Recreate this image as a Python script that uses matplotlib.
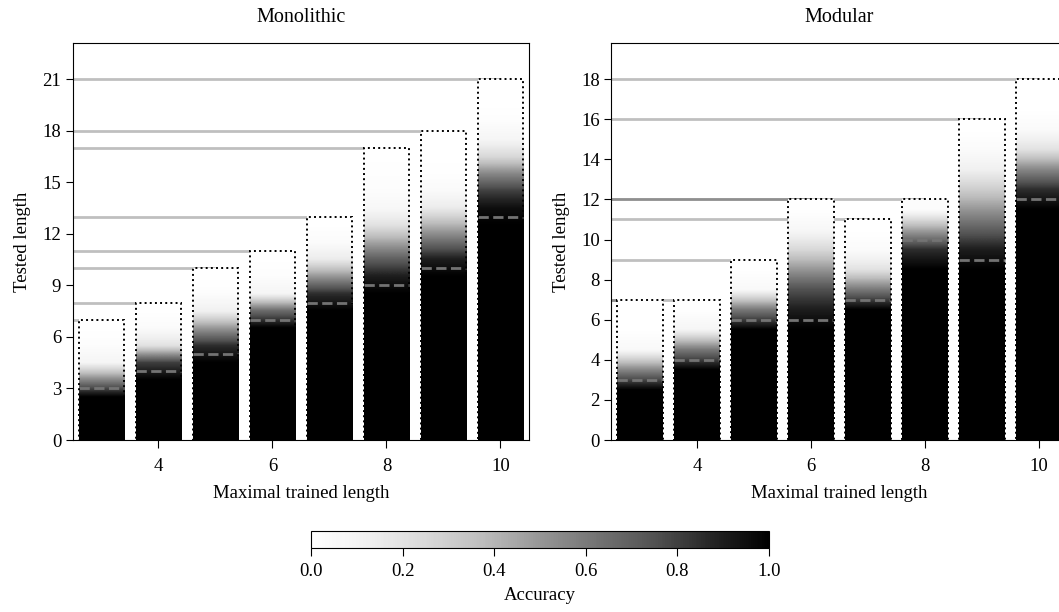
import numpy as np
import matplotlib
matplotlib.use("Agg")
import matplotlib.pyplot as plt
from matplotlib.patches import Rectangle
from matplotlib.ticker import MultipleLocator
from matplotlib.cm import ScalarMappable
from matplotlib.colors import Normalize

plt.rcParams["font.family"] = ["Liberation Serif", "DejaVu Serif"]
plt.rcParams["font.size"] = 13.5
plt.rcParams["xtick.major.size"] = 6
plt.rcParams["ytick.major.size"] = 5
plt.rcParams["xtick.major.pad"] = 7
plt.rcParams["ytick.major.pad"] = 3.5

# Maximal trained length (x positions of the bars)
trained_len = [3, 4, 5, 6, 7, 8, 9, 10]

# Monolithic: longest tested length, generalisation threshold, accuracy per tested length (1..max)
mono_max = [7, 8, 10, 11, 13, 17, 18, 21]
mono_thr = [3, 4, 5, 7, 8, 9, 10, 13]
mono_acc = [
    [1, 1, 1, 0.55, 0.08, 0.02, 0],
    [1, 1, 1, 1, 0.8, 0.2, 0.03, 0],
    [1, 1, 1, 1, 1, 0.85, 0.5, 0.12, 0.02, 0],
    [1, 1, 1, 1, 1, 1, 1, 0.65, 0.08, 0.02, 0],
    [1, 1, 1, 1, 1, 1, 1, 1, 0.85, 0.5, 0.15, 0.03, 0],
    [1, 1, 1, 1, 1, 1, 1, 1, 1, 0.9, 0.7, 0.45, 0.2, 0.06, 0.02, 0.01, 0],
    [1, 1, 1, 1, 1, 1, 1, 1, 1, 1, 0.9, 0.65, 0.4, 0.15, 0.04, 0.01, 0, 0],
    [1, 1, 1, 1, 1, 1, 1, 1, 1, 1, 1, 1, 1, 0.95, 0.8, 0.55, 0.25, 0.08, 0.02, 0, 0],
]

# Modular
mod_max = [7, 7, 9, 12, 11, 12, 16, 18]
mod_thr = [3, 4, 6, 6, 7, 10, 9, 12]
mod_acc = [
    [1, 1, 1, 0.55, 0.05, 0, 0],
    [1, 1, 1, 1, 0.6, 0.08, 0],
    [1, 1, 1, 1, 1, 1, 0.6, 0.05, 0],
    [1, 1, 1, 1, 1, 1, 0.9, 0.75, 0.5, 0.25, 0.06, 0],
    [1, 1, 1, 1, 1, 1, 1, 0.6, 0.2, 0.03, 0],
    [1, 1, 1, 1, 1, 1, 1, 1, 1, 0.85, 0.45, 0.02],
    [1, 1, 1, 1, 1, 1, 1, 1, 1, 0.9, 0.7, 0.5, 0.3, 0.12, 0.03, 0],
    [1, 1, 1, 1, 1, 1, 1, 1, 1, 1, 1, 1, 0.85, 0.55, 0.2, 0.04, 0, 0],
]

cmap = plt.get_cmap("Greys")
width = 0.8

fig = plt.figure(figsize=(10.59, 6.12), dpi=100)
ax1 = fig.add_axes([0.0689, 0.281, 0.4306, 0.6487])
ax2 = fig.add_axes([0.5774, 0.281, 0.4306, 0.6487])
cax = fig.add_axes([0.2937, 0.1046, 0.4325, 0.0278])


def draw_panel(ax, tops, thrs, accs, title, step):
    for x, top, thr, acc in zip(trained_len, tops, thrs, accs):
        # grey guide line from the axis to the bar
        ax.hlines(top, 2.5, x, colors="k", alpha=0.25, lw=2, zorder=0.5)
        ax.imshow(np.array(acc, dtype=float)[:, None],
                  extent=(x - width / 2, x + width / 2, 0, top),
                  origin="lower", aspect="auto", cmap=cmap, vmin=0, vmax=1,
                  interpolation="bilinear", zorder=1)
        ax.add_patch(Rectangle((x - width / 2, 0), width, top, fill=False,
                               ec="k", ls=":", lw=1.4, zorder=3))
        ax.hlines(thr, x - width / 2, x + width / 2, colors="0.45",
                  linestyles="--", lw=2, zorder=2)
    ax.set_xlim(2.5, 10.5)
    ax.set_ylim(0, max(tops) * 1.1)
    ax.yaxis.set_major_locator(MultipleLocator(step))
    ax.set_xticks([4, 6, 8, 10])
    ax.set_title(title, pad=15, fontsize=14.5)
    ax.set_xlabel("Maximal trained length", labelpad=7)
    ax.set_ylabel("Tested length", labelpad=8)


draw_panel(ax1, mono_max, mono_thr, mono_acc, "Monolithic", 3)
draw_panel(ax2, mod_max, mod_thr, mod_acc, "Modular", 2)

cb = fig.colorbar(ScalarMappable(norm=Normalize(0, 1), cmap=cmap), cax=cax,
                  orientation="horizontal")
cb.ax.tick_params(length=6, pad=5)
cb.set_label("Accuracy", labelpad=5)

fig.savefig("out.png", dpi=100)
